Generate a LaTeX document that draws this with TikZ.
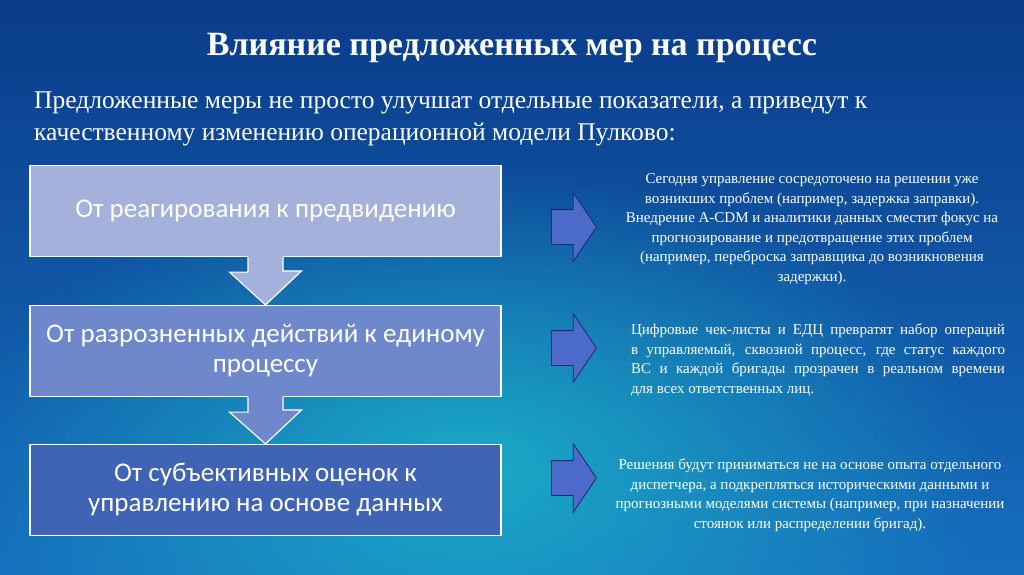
\documentclass[tikz,border=0pt]{standalone}
\usepackage{fontspec}
\setmainfont{Liberation Serif}
\newfontfamily\boxfont{Carlito}
\usetikzlibrary{positioning,shapes.arrows,fadings}
\definecolor{DeepBlue}{RGB}{10,60,138}
\definecolor{SeaBlue}{RGB}{22,110,190}
\definecolor{GlowTeal}{RGB}{28,178,200}
\definecolor{LiteLilac}{RGB}{163,177,219}
\definecolor{MidLilac}{RGB}{111,136,204}
\definecolor{DarkLilac}{RGB}{63,99,181}
\definecolor{PointBlue}{RGB}{76,106,201}
\definecolor{PointEdge}{RGB}{28,42,110}
\tikzfading[name=glow, inner color=transparent!0, outer color=transparent!100]

\begin{document}
\begin{tikzpicture}[x=1pt, y=-1pt,
  stage/.style={draw=white, line width=1.2pt, minimum width=471pt, minimum height=91pt, inner sep=0pt, align=center, text=white, font=\boxfont\fontsize{27}{30}\selectfont},
  drop/.style={draw=white, line width=1.2pt, line join=miter},
  pointer/.style={single arrow, draw=PointEdge, fill=PointBlue, line width=0.8pt, minimum height=45pt, minimum width=68pt, inner xsep=0pt, inner ysep=17pt, single arrow head extend=17pt, single arrow tip angle=112, anchor=tail},
  note/.style={text=white, inner sep=0pt, font=\fontsize{15}{19.5}\selectfont}
]
\useasboundingbox (0,0) rectangle (1024,574);
% background
\fill[top color=DeepBlue, bottom color=SeaBlue] (0,0) rectangle (1024,574);
\fill[GlowTeal, path fading=glow, fill opacity=0.9] (470,470) ellipse [x radius=520, y radius=300];

% headings
\node[text=white, font=\bfseries\fontsize{34}{40}\selectfont] (title) at (512,48) {Влияние предложенных мер на процесс};
\node[text=white, anchor=west, align=left, inner sep=0pt, font=\fontsize{25.5}{32}\selectfont] (intro) at (34,119)
  {Предложенные меры не просто улучшат отдельные показатели, а приведут к\\
   качественному изменению операционной модели Пулково:};

% stages
\node[stage, fill=LiteLilac] (react) at (265.5,211) {От реагирования к предвидению};
\node[stage, fill=MidLilac] (unite) at (265.5,351) {От разрозненных действий к единому\\процессу};
\node[stage, fill=DarkLilac] (data) at (265.5,490) {От субъективных оценок к\\управлению на основе данных};

% down arrows
\fill[LiteLilac] ([xshift=-17.5pt,yshift=1.5pt]react.south) -- ++(0,16.5) -- ++(-18.5,0) -- (unite.north) -- ++(36,-34) -- ++(-18.5,0) -- ([xshift=17.5pt,yshift=1.5pt]react.south) -- cycle;
\draw[drop] ([xshift=-17.5pt]react.south) -- ++(0,15) -- ++(-18.5,0) -- (unite.north) -- ++(36,-34) -- ++(-18.5,0) -- ([xshift=17.5pt]react.south);
\fill[MidLilac] ([xshift=-17.5pt,yshift=1.5pt]unite.south) -- ++(0,16.5) -- ++(-18.5,0) -- (data.north) -- ++(36,-34) -- ++(-18.5,0) -- ([xshift=17.5pt,yshift=1.5pt]unite.south) -- cycle;
\draw[drop] ([xshift=-17.5pt]unite.south) -- ++(0,15) -- ++(-18.5,0) -- (data.north) -- ++(36,-34) -- ++(-18.5,0) -- ([xshift=17.5pt]unite.south);

% side arrows
\node[pointer] (p1) at (551,227) {};
\node[pointer] (p2) at (551,348) {};
\node[pointer] (p3) at (551,478) {};

% notes
\node[note, align=center] (n1) at (812,229)
  {Сегодня управление сосредоточено на решении уже\\
   возникших проблем (например, задержка заправки).\\
   Внедрение A-CDM и аналитики данных сместит фокус на\\
   прогнозирование и предотвращение этих проблем\\
   (например, переброска заправщика до возникновения\\
   задержки).};
\node[note, text width=374pt, align=justify] (n2) at (818,360)
  {Цифровые чек-листы и ЕДЦ превратят набор операций\linebreak
   в управляемый, сквозной процесс, где статус каждого\linebreak
   ВС и каждой бригады прозрачен в реальном времени\linebreak
   для всех ответственных лиц.};
\node[note, align=center] (n3) at (810,495)
  {Решения будут приниматься не на основе опыта отдельного\\
   диспетчера, а подкрепляться историческими данными и\\
   прогнозными моделями системы (например, при назначении\\
   стоянок или распределении бригад).};
\end{tikzpicture}
\end{document}
